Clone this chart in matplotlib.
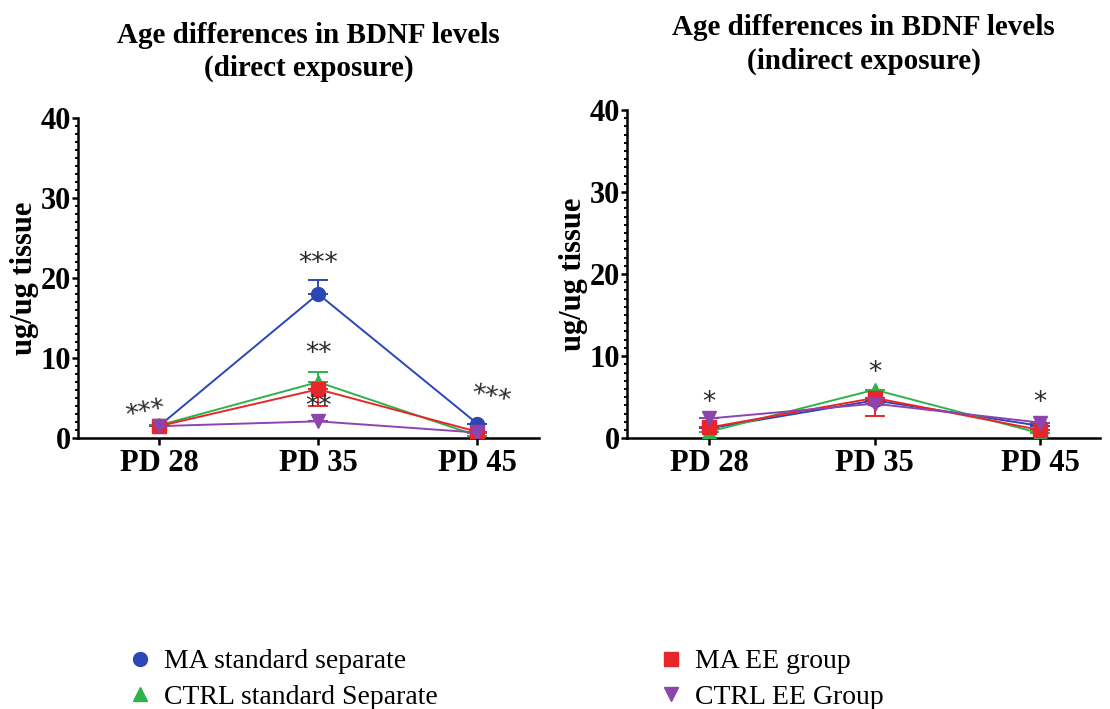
import matplotlib.pyplot as plt
from matplotlib.lines import Line2D
from matplotlib.ticker import MultipleLocator
import numpy as np

plt.rcParams['font.family'] = ['Liberation Serif', 'DejaVu Serif']

ages = ['PD 28', 'PD 35', 'PD 45']
groups = ['MA standard separate', 'CTRL standard Separate', 'MA EE group', 'CTRL EE Group']
colors = ['#2a47b5', '#2db34a', '#e8262a', '#8e44ad']
markers = ['o', '^', 's', 'v']

# direct exposure
direct_mean = {
    'MA standard separate': [1.5, 18.0, 1.8],
    'CTRL standard Separate': [1.6, 7.0, 0.3],
    'MA EE group': [1.5, 6.1, 0.8],
    'CTRL EE Group': [1.5, 2.1, 0.7],
}
direct_err_up = {
    'MA standard separate': [0, 1.7, 0],
    'CTRL standard Separate': [0, 1.3, 0],
    'MA EE group': [0, 0, 0],
    'CTRL EE Group': [0, 0, 0],
}
direct_err_down = {
    'MA standard separate': [0, 0, 0],
    'CTRL standard Separate': [0, 0, 0],
    'MA EE group': [0, 2.1, 0],
    'CTRL EE Group': [0, 0, 0],
}
direct_stars = [('***', -0.08, 3.2, 12), ('***', 1, 21.7, 0), ('**', 1, 10.5, 0),
                ('**', 1, 3.9, 0), ('***', 2.08, 5.0, -12)]

# indirect exposure
indirect_mean = {
    'MA standard separate': [1.2, 4.6, 1.5],
    'CTRL standard Separate': [0.8, 5.9, 0.6],
    'MA EE group': [1.3, 4.9, 1.0],
    'CTRL EE Group': [2.4, 4.2, 1.9],
}
indirect_err_up = {g: [0, 0, 0] for g in groups}
indirect_err_down = {
    'MA standard separate': [0, 0, 0],
    'CTRL standard Separate': [0, 0, 0],
    'MA EE group': [0, 2.2, 0],
    'CTRL EE Group': [0, 0, 0],
}
indirect_stars = [('*', 0, 4.3, 0), ('*', 1, 8.0, 0), ('*', 2, 4.3, 0)]

fig = plt.figure(figsize=(11.1, 7.09), dpi=100)
ax1 = fig.add_axes([0.070, 0.382, 0.416, 0.452])
ax2 = fig.add_axes([0.565, 0.382, 0.426, 0.463])

def draw(ax, means, up, down, stars, title, xlim):
    x = np.arange(len(ages))
    for g, c, m in zip(groups, colors, markers):
        ax.errorbar(x, means[g], yerr=[down[g], up[g]], color=c, lw=1.4,
                    capsize=7, capthick=1.4, fmt='none', zorder=2)
        ax.plot(x, means[g], color=c, marker=m, markersize=10, lw=1.4,
                label=g, zorder=3)
    for s, xs, ys, rot in stars:
        ax.text(xs, ys, s, ha='center', va='center', fontsize=19, color='#2a2a2a',
                rotation=rot, family=['DejaVu Sans'])
    ax.set_ylim(0, 40)
    ax.set_xlim(*xlim)
    ax.set_yticks([0, 10, 20, 30, 40])
    ax.yaxis.set_minor_locator(MultipleLocator(1))
    ax.set_xticks(x)
    ax.set_xticklabels(ages, fontsize=22, fontweight='bold')
    for lbl in ax.get_yticklabels():
        lbl.set_fontsize(22)
        lbl.set_fontweight('bold')
    ax.spines['top'].set_visible(False)
    ax.spines['right'].set_visible(False)
    ax.spines['left'].set_linewidth(1.8)
    ax.spines['bottom'].set_linewidth(1.8)
    ax.tick_params(axis='y', which='major', width=1.8, length=4, direction='out', pad=1)
    ax.tick_params(axis='y', which='minor', width=1.4, length=2.5, direction='out')
    ax.tick_params(axis='x', which='major', width=1.8, length=5, direction='out', pad=3)
    ax.set_ylabel('ug/ug tissue', fontsize=22, fontweight='bold', labelpad=1)
    ax.set_title(title, fontsize=21, fontweight='bold', pad=30, linespacing=1.3)

draw(ax1, direct_mean, direct_err_up, direct_err_down, direct_stars,
     'Age differences in BDNF levels\n(direct exposure)', (-0.51, 2.39))
draw(ax2, indirect_mean, indirect_err_up, indirect_err_down, indirect_stars,
     'Age differences in BDNF levels\n(indirect exposure)', (-0.497, 2.363))

handles = [Line2D([], [], color=c, marker=m, markersize=10, lw=0)
           for c, m in zip(colors, markers)]
fig.legend(handles=handles, labels=groups, ncol=2, loc='center left',
           bbox_to_anchor=(0.094, 0.042), frameon=False, fontsize=20,
           columnspacing=8.0, handlelength=0.8, handletextpad=0.45,
           labelspacing=0.35)

fig.savefig('out.png', dpi=100)
